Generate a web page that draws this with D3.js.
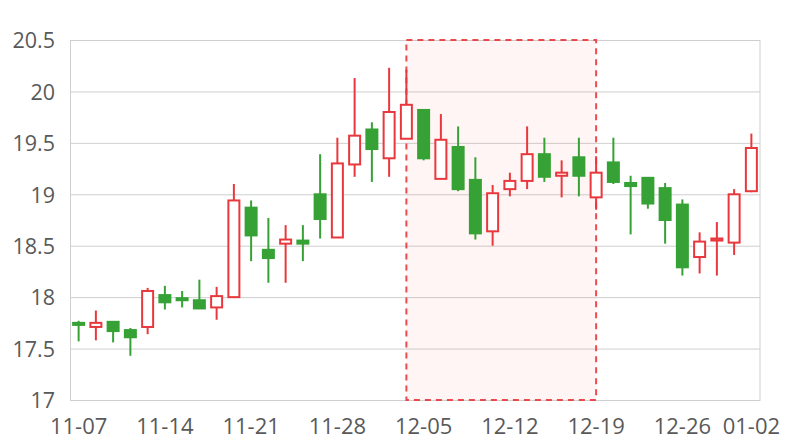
<!DOCTYPE html>
<html>
<head>
<meta charset="utf-8">
<script src="https://cdn.jsdelivr.net/npm/d3@7/dist/d3.min.js"></script>
<style>
  html, body { margin: 0; padding: 0; background: #fff; }
  svg text { font-family: "Open Sans", "Noto Sans", sans-serif; }
</style>
</head>
<body>
<svg id="chart" width="800" height="440"></svg>
<script>
const dates = ["11-07","11-08","11-11","11-12","11-13","11-14","11-15","11-18","11-19","11-20",
  "11-21","11-22","11-25","11-26","11-27","11-28","11-29","12-02","12-03","12-04",
  "12-05","12-06","12-09","12-10","12-11","12-12","12-13","12-16","12-17","12-18",
  "12-19","12-20","12-23","12-24","12-25","12-26","12-27","12-30","12-31","01-02"];
const openVals = [17.75,17.71,17.76,17.68,17.71,18.02,17.99,17.97,17.90,18.00,
  18.87,18.46,18.52,18.55,19.00,18.58,19.29,19.63,19.35,19.54,
  19.82,19.15,19.46,19.14,18.64,19.05,19.13,19.39,19.18,19.36,
  18.97,19.31,19.11,19.16,19.06,18.90,18.39,18.55,18.53,19.03];
const closeVals = [17.73,17.75,17.67,17.61,18.06,17.95,17.97,17.89,18.01,18.94,
  18.60,18.38,18.56,18.52,18.76,19.30,19.57,19.44,19.80,19.87,
  19.35,19.53,19.05,18.62,19.01,19.13,19.39,19.17,19.21,19.18,
  19.21,19.12,19.08,18.91,18.75,18.29,18.54,18.57,19.00,19.45];
const highVals = [17.77,17.87,17.76,17.70,18.09,18.11,18.06,18.17,18.10,19.10,
  18.94,18.77,18.70,18.70,19.39,19.55,20.13,19.70,20.23,20.21,
  19.82,19.78,19.66,19.36,19.09,19.21,19.66,19.55,19.33,19.55,
  19.37,19.55,19.18,19.16,19.11,18.95,18.63,18.73,19.05,19.59];
const lowVals = [17.57,17.58,17.56,17.43,17.64,17.88,17.90,17.89,17.78,18.00,
  18.35,18.14,18.14,18.35,18.57,18.58,19.17,19.12,19.17,19.54,
  19.33,19.15,19.03,18.56,18.50,18.98,19.05,19.12,18.97,18.98,
  18.85,19.10,18.61,18.86,18.52,18.21,18.23,18.21,18.41,19.02];
const yTicks = [17, 17.5, 18, 18.5, 19, 19.5, 20, 20.5];
const xTickLabels = ["11-07","11-14","11-21","11-28","12-05","12-12","12-19","12-26","01-02"];
const markStart = "12-04";
const markEnd = "12-19";

const svg = d3.select("#chart");
const margin = {left: 70, right: 40, top: 40, bottom: 40};
const W = 800, H = 440;
const x = d3.scaleBand().domain(dates).range([margin.left, W - margin.right]).paddingInner(0).paddingOuter(0);
const y = d3.scaleLinear().domain([17, 20.5]).range([H - margin.bottom, margin.top]);
const cx = d => x(d) + x.bandwidth() / 2;

const RED = "#e8383d", GREEN = "#36a236", GRID = "#cfcfcf", TXT = "#595959";

// grid
const yAxis = d3.axisLeft(y).tickValues(yTicks).tickSize(-(W - margin.left - margin.right)).tickFormat(d3.format("~g")).tickPadding(15);
const gy = svg.append("g").attr("transform", `translate(${margin.left},0)`).call(yAxis);
gy.select(".domain").attr("stroke", GRID);
gy.selectAll(".tick line").attr("stroke", GRID);
gy.selectAll(".tick text").attr("fill", TXT).style("font-size", "21.5px").attr("dy", "0.36em");

// right border
svg.append("line").attr("x1", W - margin.right).attr("x2", W - margin.right)
  .attr("y1", y(20.5)).attr("y2", y(17)).attr("stroke", GRID);

// x axis labels
const xAxis = d3.axisBottom(x).tickValues(xTickLabels).tickSize(0).tickPadding(18);
const gx = svg.append("g").attr("transform", `translate(0,${H - margin.bottom})`).call(xAxis);
gx.select(".domain").attr("stroke", GRID);
gx.selectAll(".tick text").attr("fill", TXT).style("font-size", "22px").attr("dy", "0.72em");

// mark area
svg.append("rect")
  .attr("x", cx(markStart)).attr("y", y(20.5))
  .attr("width", cx(markEnd) - cx(markStart)).attr("height", y(17) - y(20.5))
  .attr("fill", "rgba(255,60,60,0.05)")
  .attr("stroke", RED).attr("stroke-opacity", 0.9)
  .attr("stroke-width", 2).attr("stroke-dasharray", "6,5");

// candles
const idx = d3.range(dates.length);
const bw = 11;
const g = svg.append("g");
idx.forEach(i => {
  const up = closeVals[i] >= openVals[i];
  const col = up ? RED : GREEN;
  const c = cx(dates[i]);
  const top = Math.max(openVals[i], closeVals[i]);
  const bot = Math.min(openVals[i], closeVals[i]);
  g.append("line").attr("x1", c).attr("x2", c)
    .attr("y1", y(highVals[i])).attr("y2", y(top)).attr("stroke", col).attr("stroke-width", 2);
  g.append("line").attr("x1", c).attr("x2", c)
    .attr("y1", y(bot)).attr("y2", y(lowVals[i])).attr("stroke", col).attr("stroke-width", 2);
  const h = Math.max(y(bot) - y(top), 1.5);
  if (up) {
    g.append("rect").attr("x", c - bw / 2).attr("y", y(top)).attr("width", bw).attr("height", h)
      .attr("fill", "#fff").attr("stroke", col).attr("stroke-width", 2);
  } else {
    g.append("rect").attr("x", c - bw / 2 - 1).attr("y", y(top) - 1).attr("width", bw + 2).attr("height", h + 2)
      .attr("fill", col);
  }
});
</script>
</body>
</html>
